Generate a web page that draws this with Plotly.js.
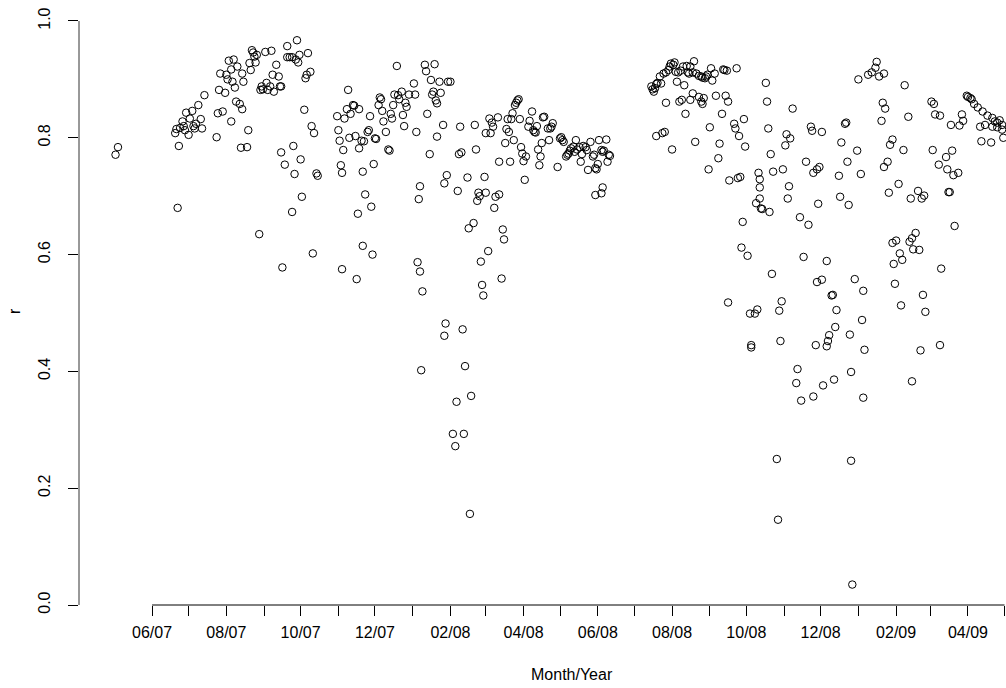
<!DOCTYPE html>
<html>
<head>
<meta charset="utf-8">
<script src="https://cdn.plot.ly/plotly-3.0.1.min.js"></script>
<style>
  html, body { margin: 0; padding: 0; background: #fff; }
  #chart { width: 1006px; height: 688px; }
</style>
</head>
<body>
<div id="chart"></div>
<script>
// Observation months; each row of obsDays / rValues belongs to the month at the same index.
const months = [
  '2007-05', '2007-06', '2007-07', '2007-08', '2007-09', '2007-10', '2007-11', '2007-12',
  '2008-01', '2008-02', '2008-03', '2008-04', '2008-05', '2008-06', '2008-07', '2008-08',
  '2008-09', '2008-10', '2008-11', '2008-12', '2009-01', '2009-02', '2009-03', '2009-04'
];

// Day of month for each observation
const obsDays = [
  [2, 4],
  [20, 21, 22, 23, 24, 26, 27, 28, 29],
  [1, 2, 4, 5, 6, 7, 9, 11, 12, 14, 24, 25, 26, 27, 29, 31],
  [1, 2, 3, 5, 5, 6, 7, 8, 9, 10, 12, 13, 14, 14, 15, 18, 19, 20, 21, 22, 23, 24, 25, 26, 28, 29, 30, 31],
  [2, 3, 4, 6, 7, 8, 9, 11, 13, 14, 15, 15, 16, 18, 20, 20, 22, 24, 24, 25, 26, 27, 28, 29, 30],
  [1, 2, 4, 5, 6, 7, 9, 10, 11, 12, 14, 15, 31],
  [1, 2, 3, 4, 4, 5, 6, 8, 9, 10, 11, 13, 14, 15, 16, 17, 18, 18, 20, 21, 21, 22, 23, 25, 26, 27, 28, 29, 30],
  [1, 2, 4, 5, 6, 7, 8, 10, 12, 13, 14, 15, 16, 17, 19, 20, 21, 23, 24, 25, 26, 27, 29],
  [2, 3, 4, 5, 6, 7, 7, 8, 9, 11, 12, 13, 15, 16, 17, 18, 19, 20, 21, 21, 23, 24, 26, 27, 27, 28, 29, 30],
  [1, 3, 5, 6, 7, 8, 9, 10, 11, 12, 13, 15, 16, 17, 18, 20, 21, 22, 23, 24, 25, 26, 27, 28, 29],
  [1, 1, 3, 4, 5, 6, 7, 8, 9, 11, 12, 12, 14, 15, 16, 17, 18, 19, 20, 21, 22, 23, 24, 25, 26, 27, 28, 29, 30, 31],
  [1, 2, 3, 5, 6, 8, 9, 10, 11, 12, 13, 14, 15, 16, 17, 18, 21, 22, 23, 24, 25, 29],
  [1, 2, 3, 4, 6, 7, 8, 9, 10, 12, 13, 14, 15, 17, 18, 19, 20, 22, 23, 24, 26, 28, 29, 30, 30, 31],
  [1, 2, 4, 4, 5, 5, 6, 8, 9, 10, 11],
  [15, 16, 17, 18, 19, 19, 20, 22, 23, 24, 25, 26, 27, 27, 29, 30, 31],
  [1, 2, 3, 4, 5, 6, 7, 8, 9, 10, 11, 12, 13, 14, 15, 16, 16, 18, 18, 19, 20, 21, 23, 23, 25, 25, 26, 26, 27, 28, 29, 30, 31],
  [1, 2, 3, 5, 6, 8, 9, 11, 12, 13, 14, 15, 16, 16, 17, 21, 22, 23, 24, 25, 26, 27, 28, 29, 30],
  [2, 4, 5, 5, 8, 9, 10, 11, 12, 12, 12, 13, 14, 17, 18, 19, 20, 21, 22, 23, 26, 27, 28, 29, 30, 31],
  [2, 3, 4, 5, 6, 8, 11, 12, 14, 15, 17, 19, 21, 23, 24, 25, 25, 27, 28, 28, 29, 30],
  [2, 2, 3, 6, 6, 7, 8, 10, 11, 12, 13, 14, 16, 17, 18, 21, 22, 23, 24, 25, 26, 26, 27, 29, 31],
  [1, 3, 4, 5, 5, 6, 9, 12, 15, 16, 18, 20, 21, 22, 22, 23, 25, 26, 27, 29, 29, 30, 31],
  [1, 3, 4, 5, 6, 7, 8, 11, 12, 13, 14, 14, 15, 17, 19, 20, 21, 22, 23, 24, 25],
  [2, 3, 4, 5, 8, 9, 9, 10, 14, 15, 16, 17, 18, 19, 20, 21, 24, 25, 27, 28, 31],
  [1, 3, 4, 6, 9, 11, 12, 13, 15, 17, 20, 21, 21, 23, 25, 25, 27, 29, 29, 30]
];

// Correlation r for each observation
const rValues = [
  [0.771, 0.784],
  [0.808, 0.815, 0.680, 0.786, 0.817, 0.828, 0.820, 0.813, 0.843],
  [0.805, 0.833, 0.846, 0.820, 0.816, 0.824, 0.856, 0.832, 0.816, 0.873, 0.801, 0.842, 0.882, 0.910, 0.845, 0.877],
  [0.908, 0.900, 0.932, 0.917, 0.828, 0.896, 0.934, 0.886, 0.862, 0.922, 0.858, 0.783, 0.849, 0.910, 0.896, 0.784, 0.813, 0.928, 0.916, 0.950, 0.946, 0.939, 0.929, 0.942, 0.635, 0.882, 0.888, 0.883],
  [0.947, 0.894, 0.882, 0.888, 0.949, 0.908, 0.879, 0.925, 0.905, 0.888, 0.888, 0.775, 0.578, 0.754, 0.938, 0.957, 0.938, 0.938, 0.673, 0.786, 0.738, 0.934, 0.967, 0.929, 0.942],
  [0.763, 0.699, 0.848, 0.902, 0.908, 0.945, 0.913, 0.820, 0.602, 0.808, 0.739, 0.735, 0.837],
  [0.813, 0.795, 0.753, 0.740, 0.575, 0.779, 0.833, 0.849, 0.882, 0.800, 0.841, 0.856, 0.855, 0.803, 0.558, 0.670, 0.849, 0.782, 0.795, 0.742, 0.615, 0.794, 0.703, 0.810, 0.813, 0.837, 0.682, 0.600, 0.755],
  [0.799, 0.798, 0.856, 0.869, 0.866, 0.846, 0.828, 0.810, 0.780, 0.778, 0.841, 0.833, 0.856, 0.874, 0.923, 0.873, 0.866, 0.879, 0.839, 0.820, 0.860, 0.853, 0.874],
  [0.893, 0.874, 0.810, 0.587, 0.695, 0.717, 0.571, 0.402, 0.537, 0.925, 0.914, 0.841, 0.772, 0.899, 0.874, 0.879, 0.926, 0.864, 0.859, 0.802, 0.896, 0.877, 0.822, 0.722, 0.461, 0.482, 0.736, 0.896],
  [0.896, 0.293, 0.272, 0.348, 0.709, 0.772, 0.819, 0.775, 0.472, 0.293, 0.409, 0.732, 0.645, 0.156, 0.358, 0.654, 0.822, 0.780, 0.692, 0.706, 0.700, 0.588, 0.548, 0.530, 0.733],
  [0.706, 0.808, 0.606, 0.833, 0.808, 0.826, 0.819, 0.680, 0.699, 0.835, 0.703, 0.759, 0.559, 0.643, 0.626, 0.791, 0.815, 0.832, 0.810, 0.759, 0.832, 0.842, 0.796, 0.856, 0.860, 0.864, 0.866, 0.832, 0.784, 0.773],
  [0.760, 0.728, 0.768, 0.819, 0.829, 0.845, 0.813, 0.810, 0.809, 0.820, 0.780, 0.753, 0.768, 0.791, 0.835, 0.836, 0.816, 0.796, 0.816, 0.819, 0.825, 0.750],
  [0.799, 0.801, 0.796, 0.793, 0.768, 0.771, 0.773, 0.778, 0.782, 0.785, 0.776, 0.796, 0.780, 0.784, 0.759, 0.772, 0.786, 0.784, 0.779, 0.745, 0.793, 0.768, 0.771, 0.748, 0.702, 0.746],
  [0.755, 0.796, 0.779, 0.705, 0.776, 0.715, 0.778, 0.797, 0.759, 0.771, 0.769],
  [0.888, 0.883, 0.879, 0.885, 0.892, 0.803, 0.894, 0.905, 0.893, 0.808, 0.910, 0.810, 0.912, 0.860, 0.916, 0.922, 0.927],
  [0.780, 0.925, 0.929, 0.913, 0.896, 0.912, 0.862, 0.915, 0.865, 0.922, 0.890, 0.841, 0.923, 0.912, 0.910, 0.922, 0.865, 0.912, 0.876, 0.931, 0.793, 0.910, 0.906, 0.870, 0.905, 0.862, 0.903, 0.858, 0.868, 0.902, 0.905, 0.908, 0.746],
  [0.818, 0.919, 0.898, 0.910, 0.872, 0.765, 0.790, 0.841, 0.917, 0.916, 0.872, 0.915, 0.862, 0.518, 0.727, 0.824, 0.816, 0.919, 0.731, 0.803, 0.733, 0.612, 0.656, 0.832, 0.785],
  [0.598, 0.499, 0.445, 0.441, 0.499, 0.688, 0.506, 0.740, 0.729, 0.715, 0.696, 0.679, 0.678, 0.894, 0.862, 0.816, 0.673, 0.772, 0.567, 0.742, 0.250, 0.146, 0.504, 0.452, 0.520, 0.746],
  [0.787, 0.806, 0.696, 0.717, 0.799, 0.850, 0.380, 0.404, 0.664, 0.350, 0.596, 0.759, 0.651, 0.819, 0.812, 0.740, 0.357, 0.445, 0.746, 0.553, 0.687, 0.750],
  [0.810, 0.557, 0.376, 0.589, 0.443, 0.452, 0.462, 0.530, 0.531, 0.386, 0.476, 0.505, 0.735, 0.699, 0.792, 0.824, 0.826, 0.759, 0.685, 0.463, 0.399, 0.247, 0.035, 0.558, 0.778],
  [0.900, 0.738, 0.488, 0.538, 0.355, 0.437, 0.908, 0.912, 0.920, 0.930, 0.905, 0.829, 0.860, 0.750, 0.910, 0.850, 0.759, 0.706, 0.788, 0.797, 0.620, 0.584, 0.550],
  [0.624, 0.721, 0.602, 0.513, 0.591, 0.779, 0.890, 0.836, 0.622, 0.696, 0.628, 0.383, 0.609, 0.637, 0.709, 0.608, 0.436, 0.696, 0.531, 0.701, 0.502],
  [0.862, 0.779, 0.858, 0.840, 0.754, 0.838, 0.445, 0.576, 0.767, 0.746, 0.707, 0.707, 0.822, 0.778, 0.736, 0.649, 0.740, 0.821, 0.840, 0.829, 0.872],
  [0.870, 0.868, 0.866, 0.858, 0.852, 0.819, 0.794, 0.845, 0.822, 0.838, 0.792, 0.819, 0.834, 0.828, 0.818, 0.826, 0.830, 0.814, 0.822, 0.800]
];

// Monthly ticks, labelled every second month
const tickMonths = [
  '2007-06-01', '2007-07-01', '2007-08-01', '2007-09-01', '2007-10-01', '2007-11-01',
  '2007-12-01', '2008-01-01', '2008-02-01', '2008-03-01', '2008-04-01', '2008-05-01',
  '2008-06-01', '2008-07-01', '2008-08-01', '2008-09-01', '2008-10-01', '2008-11-01',
  '2008-12-01', '2009-01-01', '2009-02-01', '2009-03-01', '2009-04-01', '2009-05-01'
];
const tickLabels = [
  '06/07', '', '08/07', '', '10/07', '', '12/07', '', '02/08', '', '04/08', '',
  '06/08', '', '08/08', '', '10/08', '', '12/08', '', '02/09', '', '04/09', ''
];
const rTicks = [0, 0.2, 0.4, 0.6, 0.8, 1.0];

// Flatten month rows into date / value pairs
const x = [];
const y = [];
months.forEach((m, i) => {
  obsDays[i].forEach((d, j) => {
    x.push(m + '-' + String(d).padStart(2, '0'));
    y.push(rValues[i][j]);
  });
});

const font = { family: 'Liberation Sans, Arial, Helvetica, sans-serif', size: 16, color: '#000' };

const trace = {
  type: 'scatter',
  mode: 'markers',
  x: x,
  y: y,
  marker: {
    symbol: 'circle-open',
    size: 7.5,
    color: '#000',
    line: { width: 1, color: '#000' }
  },
  hoverinfo: 'x+y'
};

const layout = {
  width: 1006,
  height: 688,
  margin: { l: 79, r: 0, t: 11, b: 83 },
  paper_bgcolor: '#fff',
  plot_bgcolor: '#fff',
  showlegend: false,
  font: font,
  xaxis: {
    type: 'date',
    range: ['2007-04-02', '2009-05-02 05:00'],
    tickmode: 'array',
    tickvals: tickMonths,
    ticktext: tickLabels,
    ticks: 'outside',
    ticklen: 10,
    tickwidth: 1,
    tickcolor: '#000',
    ticklabelstandoff: 3,
    showgrid: false,
    zeroline: false,
    showline: false,
    tickfont: font
  },
  yaxis: {
    range: [0, 1.0171],
    tickmode: 'array',
    tickvals: rTicks,
    ticktext: rTicks.map(v => v.toFixed(1)),
    tickangle: -90,
    ticks: 'outside',
    ticklen: 10,
    tickwidth: 1,
    tickcolor: '#000',
    ticklabelstandoff: 12,
    showgrid: false,
    zeroline: false,
    showline: false,
    tickfont: font
  },
  shapes: [
    // bottom axis line spanning the first to the last monthly tick
    {
      type: 'line', xref: 'x', yref: 'paper',
      x0: tickMonths[0], x1: tickMonths[tickMonths.length - 1], y0: 0, y1: 0,
      line: { color: '#000', width: 1 }
    },
    // left axis line spanning the first to the last r tick
    {
      type: 'line', xref: 'paper', yref: 'y',
      x0: 0, x1: 0, y0: rTicks[0], y1: rTicks[rTicks.length - 1],
      line: { color: '#333', width: 1 }
    }
  ],
  annotations: [
    {
      text: 'Month/Year', xref: 'paper', yref: 'paper',
      x: 0.532, y: -0.1178, xanchor: 'center', yanchor: 'middle',
      showarrow: false, font: font
    },
    {
      text: 'r', xref: 'paper', yref: 'paper',
      x: -0.069, y: 0.495, xanchor: 'center', yanchor: 'middle',
      textangle: -90, showarrow: false, font: font
    }
  ]
};

Plotly.newPlot('chart', [trace], layout, { displayModeBar: false, staticPlot: true });
</script>
</body>
</html>
